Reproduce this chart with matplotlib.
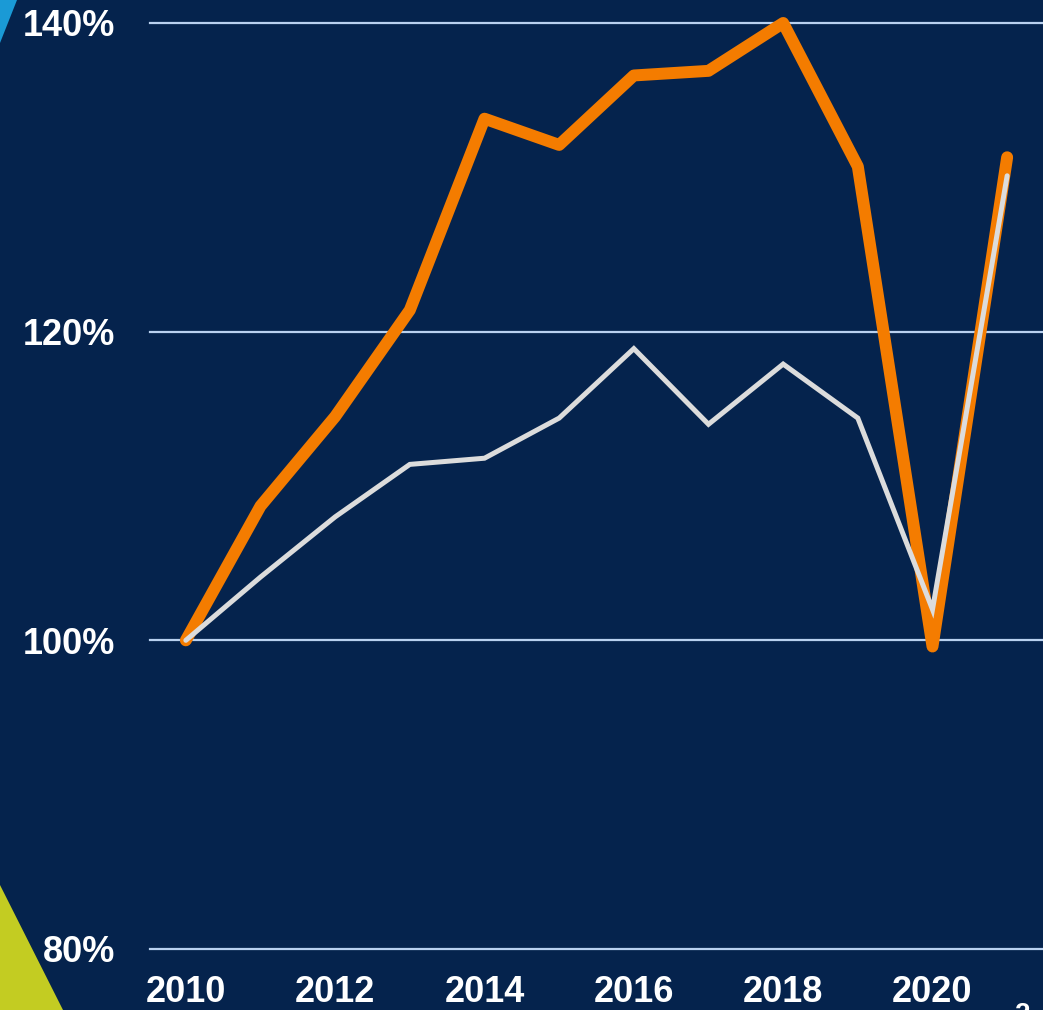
import matplotlib.pyplot as plt
from matplotlib.patches import Polygon

plt.rcParams['font.family'] = ['Liberation Sans', 'DejaVu Sans']

# data (index, 2010 = 100%)
years = list(range(2010, 2022))
orange_vals = [100, 108.7, 114.5, 121.4, 133.8, 132.1, 136.6, 136.9, 140.0, 130.7, 99.6, 131.3]
white_vals = [100, 104.1, 108.0, 111.4, 111.8, 114.4, 118.9, 114.0, 117.9, 114.4, 102.0, 130.1]
ytick_vals = [80, 100, 120, 140]
ytick_labels = ['80%', '100%', '120%', '140%']
xtick_vals = [2010, 2012, 2014, 2016, 2018, 2020]
xtick_labels = ['2010', '2012', '2014', '2016', '2018', '2020']

bg = '#05234d'
W, H = 1043, 1010

fig = plt.figure(figsize=(W / 100, H / 100), dpi=100, facecolor=bg)

# decorative corner shapes (figure pixel coords)
def px(x, y):
    return (x / W, 1 - y / H)

fig.add_artist(Polygon([px(0, 0), px(17, 0), px(0, 43)], closed=True,
                       transform=fig.transFigure, color='#1a9ad6', lw=0))
fig.add_artist(Polygon([px(0, 885), px(63, 1010), px(0, 1010)], closed=True,
                       transform=fig.transFigure, color='#c3cc22', lw=0))

ax = fig.add_axes([150 / W, 61 / H, 893 / W, 926 / H])
ax.set_facecolor(bg)
ax.set_xlim(2009.52, 2021.48)
ax.set_ylim(80, 140)

for v in ytick_vals:
    ax.axhline(v, color='#b9d1f0', lw=1.6, zorder=1, clip_on=False)

ax.plot(years, orange_vals, color='#f47c00', lw=8.6, solid_capstyle='round',
        solid_joinstyle='round', zorder=3, clip_on=False)
ax.plot(years, white_vals, color='#dcdcdc', lw=3.6, solid_capstyle='round',
        solid_joinstyle='miter', zorder=4, clip_on=False)

for s in ax.spines.values():
    s.set_visible(False)

ax.set_yticks(ytick_vals)
ax.set_yticklabels(ytick_labels, fontweight='bold')
ax.set_xticks(xtick_vals)
ax.set_xticklabels(xtick_labels, fontweight='bold')
ax.tick_params(axis='y', length=0, pad=25, labelsize=26, labelcolor='white')
ax.tick_params(axis='x', length=0, pad=19, labelsize=26, labelcolor='white')

# page number, cut off at the bottom edge
fig.text(1023 / W, 1 - 1002 / H, '2', color='white', fontsize=20,
         fontweight='bold', ha='center', va='top')

fig.savefig('out.png', dpi=100, facecolor=bg)
